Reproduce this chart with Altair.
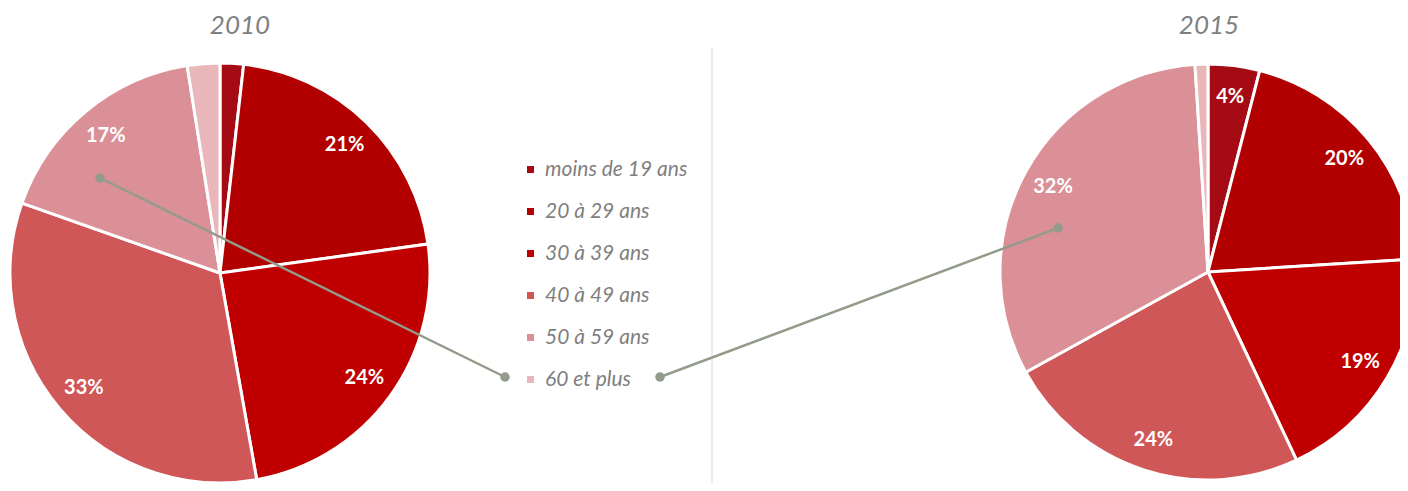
import altair as alt
import pandas as pd

cats = ["moins de 19 ans", "20 à 29 ans", "30 à 39 ans", "40 à 49 ans", "50 à 59 ans", "60 et plus"]
v2010 = [1.8, 21, 24.4, 33.2, 17.1, 2.5]
v2015 = [4, 20, 19, 24, 32, 1]
years = ["2010", "2015"]
colors = ["#a50b14", "#b20000", "#c00000", "#d05757", "#da9096", "#e9b6ba"]

rows = []
for yr, vals in zip(years, [v2010, v2015]):
    for i, (c, v) in enumerate(zip(cats, vals)):
        rows.append({"year": yr, "cat": c, "idx": i, "value": v,
                     "label": f"{round(v)}%" if v >= 3.5 else ""})
df = pd.DataFrame(rows)
one = pd.DataFrame({"a": [0]})

FONT = "Lato"
GREY = "#7f7f7f"
LINE = "#939b8b"

color = alt.Color("cat:N", scale=alt.Scale(domain=cats, range=colors),
                  legend=alt.Legend(title=None, orient="none", legendX=512, legendY=151,
                                    symbolType="square", symbolSize=49, symbolStrokeWidth=0,
                                    labelFont=FONT, labelFontStyle="italic", labelFontSize=21,
                                    labelColor=GREY, labelOffset=4, rowPadding=20, padding=0))

centers = {"2010": (212, 265, 210), "2015": (1200, 264, 208)}

layers = []
for yr in years:
    cx, cy, r = centers[yr]
    base = alt.Chart(df).transform_filter(f"datum.year == '{yr}'")
    pie = base.mark_arc(radius=r, stroke="white", strokeWidth=3).encode(
        theta=alt.Theta("value:Q", stack=True),
        color=color,
        order=alt.Order("idx:Q"),
        x=alt.value(cx), y=alt.value(cy),
    )
    lab = base.mark_text(radius=r * 0.85, fontSize=20, fontWeight="bold", font=FONT,
                         color="white").encode(
        theta=alt.Theta("value:Q", stack=True),
        detail="cat:N",
        order=alt.Order("idx:Q"),
        text="label:N",
        x=alt.value(cx), y=alt.value(cy),
    )
    title = alt.Chart(one).mark_text(fontSize=26, fontStyle="italic", font=FONT,
                                     color=GREY).encode(
        text=alt.value(yr), x=alt.value(cx + (20 if yr == "2010" else 1)), y=alt.value(18))
    layers += [pie, lab, title]

sep = alt.Chart(one).mark_rule(color="#d9d9d9", strokeWidth=1).encode(
    x=alt.value(704), y=alt.value(40), y2=alt.value(475))

conn1 = alt.Chart(one).mark_rule(color=LINE, strokeWidth=2.5).encode(
    x=alt.value(92), y=alt.value(170), x2=alt.value(497), y2=alt.value(369))
conn2 = alt.Chart(one).mark_rule(color=LINE, strokeWidth=2.5).encode(
    x=alt.value(652), y=alt.value(369), x2=alt.value(1050), y2=alt.value(220))
dots = []
for (px, py) in [(92, 170), (497, 369), (652, 369), (1050, 220)]:
    dots.append(alt.Chart(one).mark_circle(color=LINE, opacity=1, size=90).encode(
        x=alt.value(px), y=alt.value(py)))

chart = alt.layer(sep, *layers, conn1, conn2, *dots).properties(
    width=1392, height=475,
    autosize=alt.AutoSizeParams(type="none"),
    padding=0,
).configure_view(stroke=None)

chart.save("out.html", embed_options={"renderer": "svg", "actions": False})
